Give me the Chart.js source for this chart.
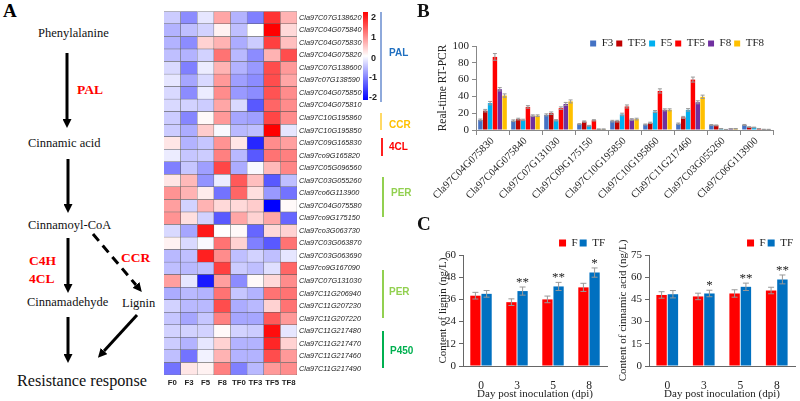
<!DOCTYPE html>
<html>
<head>
<meta charset="utf-8">
<script src="https://cdn.jsdelivr.net/npm/chart.js@4.4.0/dist/chart.umd.min.js"></script>
<style>
  body { margin: 0; background: #fff; }
  #wrap { position: relative; width: 800px; height: 401px; overflow: hidden; font-family: 'Liberation Serif', serif; }
  .abs { position: absolute; }
  .panel { position: absolute; font: bold 19px 'Liberation Serif', serif; color: #111; }
  .cb-tick { position: absolute; left: 371px; font: bold 9px 'Liberation Sans', sans-serif; color: #222; line-height: 10px; }
  .grp-line { position: absolute; width: 2px; }
  .grp-txt { position: absolute; font: bold 10px 'Liberation Sans', sans-serif; line-height: 12px; }
</style>
</head>
<body>
<div id="wrap">
  <!-- A: pathway -->
  <svg class="abs" style="left:0;top:0" width="160" height="401">
    <defs>
      <marker id="ah" markerWidth="3" markerHeight="3" refX="0" refY="1.5" orient="auto" markerUnits="strokeWidth">
        <path d="M0,0 L3,1.5 L0,3 z" fill="#000"/>
      </marker>
    </defs>
    <text x="3" y="17" font-family="Liberation Serif" font-weight="bold" font-size="19">A</text>
    <g font-family="Liberation Serif" font-size="12.5" fill="#111">
      <text x="38" y="37">Phenylalanine</text>
      <text x="28" y="147">Cinnamic acid</text>
      <text x="28" y="229">Cinnamoyl-CoA</text>
      <text x="27" y="306">Cinnamadehyde</text>
      <text x="122" y="307">Lignin</text>
      <text x="17" y="386" font-size="16.2">Resistance response</text>
    </g>
    <g font-family="Liberation Serif" font-weight="bold" font-size="13.5" fill="#ff0000">
      <text x="77" y="94">PAL</text>
      <text x="29" y="265">C4H</text>
      <text x="29" y="283">4CL</text>
      <text x="121" y="262">CCR</text>
    </g>
    <g stroke="#000" stroke-width="3" fill="none" marker-end="url(#ah)">
      <line x1="67" y1="53" x2="67" y2="119"/>
      <line x1="68" y1="159" x2="68" y2="204"/>
      <line x1="68" y1="238" x2="68" y2="284"/>
      <line x1="68" y1="317" x2="68" y2="354"/>
      <line x1="93" y1="234" x2="136" y2="285" stroke-dasharray="9,6"/>
      <line x1="137" y1="315" x2="104" y2="351"/>
    </g>
  </svg>

  <!-- heatmap -->
  <canvas id="heatmap" class="abs" style="left:160px;top:5px" width="230" height="392"></canvas>
  <div class="abs" style="left:363px;top:12px;width:5px;height:88px;background:linear-gradient(#ff0000,#ffffff,#0000ff)"></div>
  <div class="cb-tick" style="top:12px">2</div>
  <div class="cb-tick" style="top:32px">1</div>
  <div class="cb-tick" style="top:53px">0</div>
  <div class="cb-tick" style="top:72px;left:369px">-1</div>
  <div class="cb-tick" style="top:92px;left:369px">-2</div>
  <div class="grp-line" style="left:380px;top:12px;height:90px;background:#8ea9db"></div>
  <div class="grp-txt" style="left:389px;top:47px;color:#1f6fc0">PAL</div>
  <div class="grp-line" style="left:380px;top:113px;height:17px;background:#ffd966"></div>
  <div class="grp-txt" style="left:389px;top:119px;color:#ffc000">CCR</div>
  <div class="grp-line" style="left:381px;top:138px;height:18px;background:#ff2020"></div>
  <div class="grp-txt" style="left:389px;top:141px;color:#ff0000">4CL</div>
  <div class="grp-line" style="left:382px;top:177px;height:40px;background:#92d050"></div>
  <div class="grp-txt" style="left:391px;top:187px;color:#92d050">PER</div>
  <div class="grp-line" style="left:382px;top:270px;height:48px;background:#92d050"></div>
  <div class="grp-txt" style="left:389px;top:286px;color:#92d050">PER</div>
  <div class="grp-line" style="left:382px;top:331px;height:37px;background:#00b050"></div>
  <div class="grp-txt" style="left:390px;top:345px;color:#00b050">P450</div>

  <div class="panel" style="left:417px;top:0px">B</div>
  <canvas id="qpcr" class="abs" style="left:432px;top:22px" width="368" height="183"></canvas>

  <div class="panel" style="left:417px;top:213px">C</div>
  <canvas id="lignin" class="abs" style="left:436px;top:232px" width="174" height="169"></canvas>
  <canvas id="cinnamic" class="abs" style="left:612px;top:232px" width="188" height="169"></canvas>
</div>

<script>
// ---- heatmap data (row z-scores) ----
const heatCols = ['F0', 'F3', 'F5', 'F8', 'TF0', 'TF3', 'TF5', 'TF8'];
const heatGenes = [
  'Cla97C07G138620', 'Cla97C04G075840', 'Cla97C04G075830', 'Cla97C04G075820',
  'Cla97C07G138600', 'Cla97c07G138590', 'Cla97C04G075850', 'Cla97C04G075810',
  'Cla97C10G195860', 'Cla97C10G195850', 'Cla97C09G165830', 'Cla97co9G165820',
  'Cla97C05G096560', 'Cla97C03G055260', 'Cla97co6G113900', 'Cla97C04G075580',
  'Cla97co9G175150', 'Cla97co3G063730', 'Cla97C03G063870', 'Cla97C03G063690',
  'Cla97co9G167090', 'Cla97C07G131030', 'Cla97C11G206940', 'Cla97C11G207230',
  'Cla97C11G207220', 'Cla97C11G217480', 'Cla97C11G217470', 'Cla97C11G217460',
  'Cla97C11G217490'
];
const heatValues = [
  [-0.4, -0.9, -0.2, 0.7, -0.6, -1.0, 1.6, 0.6],
  [-0.6, -0.5, -0.35, 0.1, -0.5, 0.0, 2.0, 0.3],
  [-0.6, -0.9, 0.35, 0.6, -0.65, -0.4, 1.5, 0.5],
  [-0.5, -0.6, -0.35, 1.1, -0.55, -0.9, 0.6, 1.4],
  [-0.3, -1.0, -0.15, 0.6, -0.6, -0.8, 1.4, 0.8],
  [-0.2, -0.7, -0.3, 0.8, -0.75, -0.9, 1.4, 0.7],
  [-0.3, -0.9, -0.15, 0.9, -0.8, -0.9, 1.35, 0.9],
  [-0.3, -0.35, -0.4, 0.7, -0.3, -1.3, 1.2, 0.9],
  [-0.4, -0.95, 0.05, 0.8, -0.7, -0.75, 1.45, 0.9],
  [-0.4, -0.65, 0.4, -0.05, -0.55, -0.5, 2.0, -0.2],
  [0.2, -0.6, -0.45, 0.85, 0.2, -1.7, 0.9, 0.75],
  [-0.15, -0.45, -0.4, 1.0, -0.55, -1.3, 1.1, 1.0],
  [-1.0, -0.45, -0.75, 1.45, -0.65, -0.05, 0.55, 0.95],
  [0.2, 0.55, -0.85, -0.15, 1.3, 0.5, -1.3, -0.5],
  [0.85, 0.6, 0.15, -1.1, 1.2, 0.25, -0.8, -1.1],
  [0.75, -0.35, 0.6, 0.3, 0.3, 0.4, -2.0, 0.05],
  [0.85, 0.25, -0.35, -1.3, 0.7, 0.35, 0.7, -1.2],
  [-0.3, -0.7, 1.8, 0.0, 0.05, -1.2, 0.3, 0.35],
  [0.1, -0.3, -0.05, 1.1, 0.35, -1.0, -1.3, 1.1],
  [-0.55, -0.5, 1.75, 0.9, -0.5, -0.35, -0.5, -0.2],
  [-0.5, -0.55, -0.5, 1.5, -0.4, -0.5, -0.25, 1.2],
  [0.75, -0.2, -1.8, 0.75, -0.9, 0.05, 0.3, 0.9],
  [-0.65, -0.55, -0.6, 1.1, -0.45, -0.6, 1.1, 1.1],
  [-0.35, -0.55, -0.55, 1.4, -0.65, -0.55, 0.35, 1.1],
  [-0.45, -0.7, -0.45, 1.0, -0.7, -0.7, 1.3, 0.8],
  [-0.35, -0.35, -0.35, 0.05, -0.35, -0.4, 1.9, -0.2],
  [-0.4, -0.6, -0.2, 0.35, -0.6, -0.6, 1.7, 0.35],
  [-0.5, -1.1, -0.1, 0.6, -0.6, -0.6, 1.4, 0.8],
  [-1.1, 0.2, 0.1, 1.0, -1.0, -0.55, 0.8, 0.9]
];

// ---- B: real-time RT-PCR ----
const qpcrGenes = [
  'Cla97C04G075830', 'Cla97C04G075840', 'Cla97C07G131030', 'Cla97C09G175150',
  'Cla97C10G195850', 'Cla97C10G195860', 'Cla97C11G217460', 'Cla97C03G055260',
  'Cla97C06G113900'
];
const qF3  = [12, 11, 18, 7, 10.5, 6.5, 7.5, 6, 6];
const qTF3 = [23, 13, 20, 10, 10.5, 8.5, 15, 5.5, 3.5];
const qF5  = [32, 12, 11.5, 5, 18.5, 22, 24, 1.5, 3];
const qTF5 = [87, 27.5, 26, 11.5, 28, 46.5, 60, 0.5, 1.5];
const qF8  = [48.5, 17, 31, 1, 12.5, 24, 33, 1.5, 0.7];
const qTF8 = [41, 17, 34, 1, 13, 24, 39.5, 1.5, 0.6];
const qF3Err  = [1, 1, 1.2, 0.6, 1, 0.6, 0.8, 0.5, 0.6];
const qTF3Err = [1.5, 1, 1.5, 0.8, 1, 0.8, 1.2, 0.5, 0.4];
const qF5Err  = [2, 0.8, 0.8, 0.5, 1.5, 1.2, 1.5, 0.3, 0.4];
const qTF5Err = [4, 1.5, 1.5, 0.8, 1.8, 2.5, 3, 0.2, 0.3];
const qF8Err  = [2, 1, 1.8, 0.3, 1, 1.2, 1.8, 0.3, 0.2];
const qTF8Err = [2, 1, 1.8, 0.3, 1, 1.2, 2, 0.3, 0.2];

// ---- C: lignin and cinnamic acid ----
const dpiLabels = ['0', '3', '5', '8'];
const ligninF = [38, 34.5, 36, 42.5];
const ligninTF = [39, 40.5, 43, 50.5];
const ligninFErr = [1.8, 1.8, 1.8, 2.2];
const ligninTFErr = [1.8, 2.2, 2.2, 2.5];
const ligninStars = ['', '**', '**', '*'];
const cinnF = [48, 47, 49, 51];
const cinnTF = [48.5, 49, 53.5, 58.5];
const cinnFErr = [2.2, 2.2, 2.5, 2.2];
const cinnTFErr = [2.5, 2.2, 2.5, 3];
const cinnStars = ['', '*', '**', '**'];

Chart.defaults.font.family = "'Liberation Serif', serif";
Chart.defaults.color = '#222';
Chart.defaults.animation = false;

function heatColor(v) {
  const t = Math.min(1, Math.abs(v) / 2);
  const c = Math.round(255 * (1 - t));
  return v >= 0 ? `rgb(255,${c},${c})` : `rgb(${c},${c},255)`;
}

// error bars + significance stars, drawn from the y scale
const errorBars = {
  id: 'errorBars',
  afterDatasetsDraw(chart, args, opts) {
    const ctx = chart.ctx;
    const y = chart.scales.y;
    chart.data.datasets.forEach((ds, i) => {
      if (!ds.errors) return;
      chart.getDatasetMeta(i).data.forEach((bar, k) => {
        const v = ds.data[k], e = ds.errors[k];
        const yt = y.getPixelForValue(v + e);
        const yb = y.getPixelForValue(Math.max(0, v - e));
        ctx.save();
        ctx.strokeStyle = opts.color || '#999';
        ctx.lineWidth = 1;
        ctx.beginPath();
        ctx.moveTo(bar.x, yt); ctx.lineTo(bar.x, yb);
        ctx.moveTo(bar.x - opts.cap, yt); ctx.lineTo(bar.x + opts.cap, yt);
        ctx.moveTo(bar.x - opts.cap, yb); ctx.lineTo(bar.x + opts.cap, yb);
        ctx.stroke();
        if (ds.stars && ds.stars[k]) {
          ctx.fillStyle = '#222';
          ctx.font = "13px 'Liberation Serif'";
          ctx.textAlign = 'center';
          ctx.textBaseline = 'bottom';
          ctx.fillText(ds.stars[k], bar.x, yt + 2);
        }
        ctx.restore();
      });
    });
  }
};

// move the legend a little after layout
const legendNudge = {
  id: 'legendNudge',
  afterLayout(chart, args, opts) {
    const l = chart.legend;
    if (!l) return;
    l.top += opts.dy || 0;
    l.bottom += opts.dy || 0;
    l.left += opts.dx || 0;
    l.right += opts.dx || 0;
  }
};

// heatmap as stacked horizontal bars, one dataset per column
new Chart(document.getElementById('heatmap'), {
  type: 'bar',
  data: {
    labels: heatGenes,
    datasets: heatCols.map((col, j) => ({
      label: col,
      data: heatGenes.map(() => 1),
      backgroundColor: heatValues.map(row => heatColor(row[j])),
      borderColor: '#555',
      borderWidth: 0.5,
      barPercentage: 1,
      categoryPercentage: 1
    }))
  },
  options: {
    indexAxis: 'y',
    responsive: false,
    layout: { padding: { left: 4, top: 5 } },
    plugins: { legend: { display: false }, tooltip: { enabled: false } },
    scales: {
      x: {
        type: 'linear', stacked: true, min: 0, max: 8,
        grid: { display: false, drawTicks: false }, border: { display: false },
        afterBuildTicks: ax => { ax.ticks = heatCols.map((c, i) => ({ value: i + 0.5 })); },
        ticks: {
          autoSkip: false, maxRotation: 0, padding: 3,
          font: { family: "'Liberation Sans'", size: 7.8, weight: 'bold' },
          callback: v => heatCols[Math.floor(v)]
        },
        afterFit: ax => { ax.height = 22; }
      },
      y: {
        stacked: true, position: 'right',
        grid: { display: false, drawTicks: false }, border: { display: false },
        ticks: { autoSkip: false, padding: 2, color: '#222', font: { family: "'Liberation Sans'", size: 7.3, style: 'italic' } },
        afterFit: ax => { ax.width = 93; }
      }
    }
  }
});

// B
const qColors = ['#4472c4', '#c00000', '#00b0f0', '#ff0000', '#7030a0', '#ffc000'];
const qSeries = [['F3', qF3, qF3Err], ['TF3', qTF3, qTF3Err], ['F5', qF5, qF5Err],
                 ['TF5', qTF5, qTF5Err], ['F8', qF8, qF8Err], ['TF8', qTF8, qTF8Err]];
new Chart(document.getElementById('qpcr'), {
  type: 'bar',
  data: {
    labels: qpcrGenes,
    datasets: qSeries.map((s, i) => ({
      label: s[0], data: s[1], errors: s[2],
      backgroundColor: qColors[i],
      categoryPercentage: 0.88, barPercentage: 0.92
    }))
  },
  options: {
    responsive: false,
    layout: { padding: { right: 27 } },
    plugins: {
      tooltip: { enabled: false },
      legend: {
        position: 'top', align: 'end',
        labels: { boxWidth: 6, boxHeight: 6, padding: 3, font: { size: 11 } }
      },
      legendNudge: { dy: 13, dx: -6 },
      errorBars: { cap: 2, color: '#999' }
    },
    scales: {
      x: {
        grid: { drawOnChartArea: false, drawTicks: true, tickLength: 5, offset: true, color: '#888' },
        border: { color: '#888' },
        ticks: { autoSkip: false, minRotation: 45, maxRotation: 45, padding: 0, font: { size: 10.5 } },
        afterFit: ax => { ax.height = 75; }
      },
      y: {
        min: 0, max: 100,
        grid: { drawOnChartArea: false, tickLength: 4, color: '#888' },
        border: { color: '#888' },
        ticks: { stepSize: 20, padding: 3, font: { size: 11 } },
        title: { display: true, text: 'Real-time RT-PCR', font: { size: 11.5 }, padding: { top: 4, bottom: 0 } },
        afterFit: ax => { ax.width = 44; }
      }
    }
  },
  plugins: [errorBars, legendNudge]
});

// C
function contentChart(id, fData, tfData, fErr, tfErr, stars, yMax, yStep, yTitle, yWidth, titlePad) {
  new Chart(document.getElementById(id), {
    type: 'bar',
    data: {
      labels: dpiLabels,
      datasets: [
        { label: 'F', data: fData, errors: fErr, backgroundColor: '#ff0000', categoryPercentage: 0.62, barPercentage: 0.92 },
        { label: 'TF', data: tfData, errors: tfErr, stars: stars, backgroundColor: '#0070c0', categoryPercentage: 0.62, barPercentage: 0.92 }
      ]
    },
    options: {
      responsive: false,
      layout: { padding: { right: id === 'lignin' ? 3 : 5 } },
      plugins: {
        tooltip: { enabled: false },
        legend: {
          position: 'top', align: 'end',
          labels: { boxWidth: 7, boxHeight: 7, padding: 2, font: { size: 11 } }
        },
        legendNudge: { dy: 3.5 },
        errorBars: { cap: 3, color: '#999' }
      },
      scales: {
        x: {
          grid: { display: false },
          border: { color: '#666' },
          ticks: { padding: 5, font: { size: 11.5 } },
          title: { display: true, text: 'Day post inoculation (dpi)', font: { size: 11 }, padding: { top: 0, bottom: 0 } },
          afterFit: ax => { ax.height = 35; }
        },
        y: {
          min: 0, max: yMax,
          grid: { drawOnChartArea: false, tickLength: 4, color: '#666' },
          border: { color: '#666' },
          ticks: { stepSize: yStep, padding: 3, font: { size: 11 } },
          title: { display: true, text: yTitle, font: { size: 11 }, padding: { top: titlePad, bottom: 0 } },
          afterFit: ax => { ax.width = yWidth; }
        }
      }
    },
    plugins: [errorBars, legendNudge]
  });
}

contentChart('lignin', ligninF, ligninTF, ligninFErr, ligninTFErr, ligninStars, 60, 12, 'Content of lignin (ng/L)', 27, 1);
contentChart('cinnamic', cinnF, cinnTF, cinnFErr, cinnTFErr, cinnStars, 75, 15, 'Content of cinnamic acid (ng/L)', 37, 5);
</script>
</body>
</html>
